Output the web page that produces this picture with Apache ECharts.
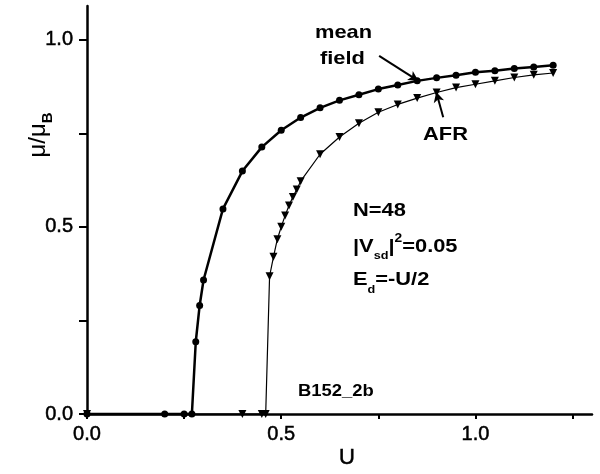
<!DOCTYPE html>
<html>
<head>
<meta charset="utf-8">
<script src="https://cdn.jsdelivr.net/npm/echarts@6/dist/echarts.min.js"></script>
<style>
  html, body { margin: 0; padding: 0; background: #fff; }
  #main { width: 600px; height: 474px; }
</style>
</head>
<body>
<div id="main"></div>
<script>
// mean field (circles)
const meanU  = [0.0, 0.20, 0.25, 0.27, 0.28, 0.29, 0.30, 0.35, 0.40, 0.45, 0.50, 0.55, 0.60, 0.65, 0.70, 0.75, 0.80, 0.85, 0.90, 0.95, 1.00, 1.05, 1.10, 1.15, 1.20];
const meanMu = [0.0, 0.0, 0.0, 0.0, 0.193, 0.29, 0.358, 0.548, 0.649, 0.713, 0.758, 0.792, 0.818, 0.838, 0.853, 0.868, 0.879, 0.890, 0.898, 0.905, 0.913, 0.917, 0.923, 0.927, 0.932];
// AFR (down triangles)
const afrU  = [0.0, 0.40, 0.45, 0.46, 0.47, 0.48, 0.49, 0.50, 0.51, 0.52, 0.53, 0.54, 0.55, 0.60, 0.65, 0.70, 0.75, 0.80, 0.85, 0.90, 0.95, 1.00, 1.05, 1.10, 1.15, 1.20];
const afrMu = [0.0, 0.0, 0.0, 0.0, 0.368, 0.42, 0.467, 0.50, 0.53, 0.557, 0.58, 0.60, 0.622, 0.694, 0.740, 0.777, 0.806, 0.827, 0.844, 0.859, 0.872, 0.881, 0.890, 0.899, 0.906, 0.911];

const xTicks = [0, 0.25, 0.5, 0.75, 1.0, 1.25];
const xLabels = [0, 0.5, 1.0];
const yTicks = [0, 0.25, 0.5, 0.75, 1.0];
const yLabels = [0, 0.5, 1.0];

function pairs(xs, ys) {
  let out = [];
  for (let i = 0; i < xs.length; i++) out.push([xs[i], ys[i]]);
  return out;
}

const font = 'Liberation Sans, Arial, sans-serif';
const sx = 1.15; // the scan is a bit stretched sideways

function note(text, x, y, size) {
  return {
    type: 'text', x: x, y: y, scaleX: sx,
    style: { text: text, fontSize: size || 19, fontWeight: 'bold', fontFamily: font, fill: '#000', verticalAlign: 'middle' }
  };
}

const chart = echarts.init(document.getElementById('main'));

let option = {
  animation: false,
  backgroundColor: '#fff',
  grid: { left: 87, right: 8, top: 6, bottom: 60 },
  xAxis: {
    type: 'value',
    min: 0,
    max: 1.3,
    splitLine: { show: false },
    axisLine: { lineStyle: { color: '#000', width: 2.5 } },
    axisTick: { customValues: xTicks, length: 5, lineStyle: { color: '#000', width: 2 } },
    axisLabel: {
      customValues: xLabels,
      color: '#000', fontSize: 20, fontFamily: font, margin: 10,
      textBorderColor: '#000', textBorderWidth: 0.5,
      formatter: v => v.toFixed(1)
    }
  },
  yAxis: {
    type: 'value',
    min: 0,
    max: 1.09,
    splitLine: { show: false },
    axisLine: { lineStyle: { color: '#000', width: 2.5 } },
    axisTick: { customValues: yTicks, length: 8, lineStyle: { color: '#000', width: 2 } },
    axisLabel: {
      customValues: yLabels,
      color: '#000', fontSize: 20, fontFamily: font, margin: 14,
      textBorderColor: '#000', textBorderWidth: 0.5,
      formatter: v => v.toFixed(1)
    }
  },
  series: [
    {
      name: 'mean field',
      type: 'line',
      data: pairs(meanU, meanMu),
      symbol: 'circle',
      symbolSize: 7,
      clip: false,
      lineStyle: { color: '#000', width: 2.5 },
      itemStyle: { color: '#000' },
      markLine: {
        silent: true,
        symbol: ['none', 'arrow'],
        symbolSize: [8, 10],
        label: { show: false },
        lineStyle: { color: '#000', width: 2, type: 'solid' },
        data: [
          [{ coord: [0.752, 0.957] }, { coord: [0.853, 0.890] }],
          [{ coord: [0.917, 0.793] }, { coord: [0.899, 0.860] }]
        ]
      }
    },
    {
      name: 'AFR',
      type: 'line',
      data: pairs(afrU, afrMu),
      symbol: 'triangle',
      symbolRotate: 180,
      symbolSize: 8,
      clip: false,
      lineStyle: { color: '#000', width: 1.2 },
      itemStyle: { color: '#000' }
    }
  ],
  graphic: [
    note('mean', 315, 33),
    note('field', 320, 59),
    note('AFR', 423, 135),
    note('N=48', 353, 211),
    {
      type: 'text', x: 353, y: 247, scaleX: sx,
      style: {
        text: '{m||V}{sub|sd}{m||}{sup|2}{m|=0.05}',
        verticalAlign: 'middle',
        rich: {
          m: { fontSize: 19, fontWeight: 'bold', fontFamily: font, color: '#000', verticalAlign: 'middle', lineHeight: 28 },
          sub: { fontSize: 11, fontWeight: 'bold', fontFamily: font, color: '#000', verticalAlign: 'bottom', lineHeight: 12 },
          sup: { fontSize: 12, fontWeight: 'bold', fontFamily: font, color: '#000', verticalAlign: 'top', lineHeight: 16 }
        }
      }
    },
    {
      type: 'text', x: 353, y: 280, scaleX: sx,
      style: {
        text: '{m|E}{sub|d}{m|=-U/2}',
        verticalAlign: 'middle',
        rich: {
          m: { fontSize: 19, fontWeight: 'bold', fontFamily: font, color: '#000', verticalAlign: 'middle', lineHeight: 30 },
          sub: { fontSize: 11, fontWeight: 'bold', fontFamily: font, color: '#000', verticalAlign: 'bottom', lineHeight: 10 }
        }
      }
    },
    note('B152_2b', 298, 392, 16),
    {
      type: 'text', x: 347, y: 458,
      style: { text: 'U', fontSize: 22, fontFamily: font, fill: '#000', stroke: '#000', lineWidth: 0.5, align: 'center', verticalAlign: 'middle' }
    },
    {
      type: 'text', x: 38, y: 135, rotation: Math.PI / 2,
      style: {
        text: '{m|μ/μ}{sub|B}',
        align: 'center',
        verticalAlign: 'middle',
        rich: {
          m: { fontSize: 24, fontFamily: font, color: '#000', verticalAlign: 'middle', lineHeight: 34 },
          sub: { fontSize: 15, fontWeight: 'bold', fontFamily: font, color: '#000', verticalAlign: 'bottom', lineHeight: 16 }
        }
      }
    }
  ]
};

chart.setOption(option);
</script>
</body>
</html>
